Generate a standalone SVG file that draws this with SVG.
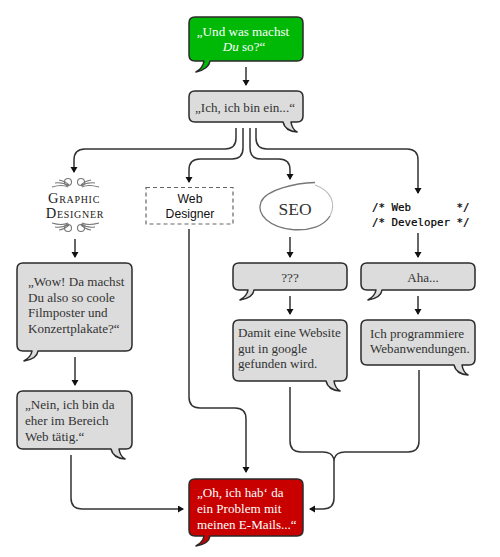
<svg xmlns="http://www.w3.org/2000/svg" width="500" height="557" viewBox="0 0 500 557">
<style>
.b{stroke:#2a2a2a;stroke-width:1.5;stroke-linejoin:round}
.g{fill:#dcdcdc}
.t{font-family:"Liberation Serif",serif;font-size:13.1px;fill:#333}
.w{font-family:"Liberation Serif",serif;font-size:13.1px;fill:#fff}
.m{text-anchor:middle}
.c{fill:none;stroke:#333;stroke-width:1.5}
.o{fill:none;stroke:#777;stroke-width:1.100}
.d{font-family:"Liberation Serif",serif;font-size:14.500px;letter-spacing:.7px;fill:#222;font-variant:small-caps;text-anchor:middle}
.code{font-family:"DejaVu Sans Mono",monospace;font-size:10.8px;fill:#000;stroke:#000;stroke-width:.2;white-space:pre}
</style>
<defs>
<marker id="a" markerUnits="userSpaceOnUse" markerWidth="8" markerHeight="8" refX="5" refY="3.5" orient="auto"><path d="M0 0L6 3.5L0 7z" fill="#111"/></marker>
</defs>
<g id="connectors">
<path class="c" marker-end="url(#a)" d="M246 67V85"/>
<path class="c" marker-end="url(#a)" d="M236 128V138Q236 149 225 149H85Q74 149 74 160V172"/>
<path class="c" marker-end="url(#a)" d="M243 128V148Q243 159 232 159H200Q189 159 189 170V182"/>
<path class="c" marker-end="url(#a)" d="M250 128V148Q250 159 261 159H279Q290 159 290 170V179"/>
<path class="c" marker-end="url(#a)" d="M256 128V138Q256 149 267 149H407Q418 149 418 160V193"/>
<path class="c" marker-end="url(#a)" d="M75 239V257"/>
<path class="c" marker-end="url(#a)" d="M290 237V257"/>
<path class="c" marker-end="url(#a)" d="M418 233V257"/>
<path class="c" marker-end="url(#a)" d="M75 357V385"/>
<path class="c" marker-end="url(#a)" d="M290 296V314"/>
<path class="c" marker-end="url(#a)" d="M418 296V314"/>
<path class="c" marker-end="url(#a)" d="M71 455V498Q71 509 82 509H183"/>
<path class="c" marker-end="url(#a)" d="M189 229V397Q189 408 200 408H235Q246 408 246 419V472"/>
<path class="c" d="M290 387V441Q290 452 301 452H323Q332 452 334 459Q336 452 345 452H408Q419 452 419 441V370"/>
<path class="c" marker-end="url(#a)" d="M334 459V498Q334 509 323 509H310"/>
</g>
<g id="n-start"><path class="b" fill="#00b806" d="M195 17H297Q303 17 303 23V55Q303 61 297 61H210Q209 69 196 72Q203 68 204 61H195Q189 61 189 55V23Q189 17 195 17Z"/>
<text class="w m" x="243" y="36">„Und was machst</text><text class="w m" x="244" y="51"><tspan font-style="italic">Du</tspan> so?“</text></g>
<g id="n-ich"><path class="b g" d="M195 91H297Q303 91 303 97V116Q303 122 297 122H291Q292 129 297 132Q285 131 283 122H195Q189 122 189 116V97Q189 91 195 91Z"/>
<text class="t m" x="245" y="112">„Ich, ich bin ein...“</text></g>
<g id="n-graphic">
<path class="o" d="M52 187Q62 184 68 187M55 183Q63 182 69 186M59 180Q65 181 69 185M99 187Q88 184 82 187M95 183Q87 182 81 186M91 180Q85 181 81 185"/>
<circle class="o" cx="68" cy="182" r="3.5"/><circle class="o" cx="81" cy="182" r="3.5"/>
<text class="d" x="74" y="203">Graphic</text>
<text class="d" x="75" y="218">Designer</text>
<path class="o" d="M52 223Q62 226 68 223M55 227Q63 228 69 224M59 230Q65 229 69 225M99 223Q88 226 82 223M95 227Q87 228 81 224M91 230Q85 229 81 225"/>
<circle class="o" cx="68" cy="228" r="3.5"/><circle class="o" cx="81" cy="228" r="3.5"/>
</g>
<g id="n-web"><rect x="146" y="187.500" width="87" height="36.500" fill="#fff" stroke="#666" stroke-width="1.200" stroke-dasharray="4 3"/>
<text x="190" y="203" text-anchor="middle" font-family="Liberation Sans,sans-serif" font-size="12.200" fill="#111">Web</text>
<text x="190" y="218" text-anchor="middle" font-family="Liberation Sans,sans-serif" font-size="12.200" fill="#111">Designer</text></g>
<g id="n-seo"><path d="M315 182.500C295 183 266 190 261 202C256 215 270 227 292 229.500C310 231 324 226 330 216" fill="none" stroke="#777" stroke-width="1.300"/>
<path d="M330 216C336 204 332 191 315 185" fill="none" stroke="#bbb" stroke-width="1.100"/>
<text x="295" y="215" text-anchor="middle" font-family="Liberation Serif,serif" font-size="17.500" fill="#333">SEO</text></g>
<g id="n-dev"><text class="code" x="372" y="211" xml:space="preserve">/* Web       */</text><text class="code" x="372" y="226" xml:space="preserve">/* Developer */</text></g>
<g id="n-wow"><path class="b g" d="M23 263H126Q132 263 132 269V345Q132 351 126 351H38Q37 359 24 361Q31 357 32 351H23Q17 351 17 345V269Q17 263 23 263Z"/>
<text class="t" x="28" y="286">„Wow! Da machst</text><text class="t" x="28" y="302">Du also so coole</text><text class="t" x="28" y="317">Filmposter und</text><text class="t" x="28" y="333">Konzertplakate?“</text></g>
<g id="n-nein"><path class="b g" d="M23 391H126Q132 391 132 397V443Q132 449 126 449H119Q120 456 125 459Q113 458 111 449H23Q17 449 17 443V397Q17 391 23 391Z"/>
<text class="t" x="25" y="409">„Nein, ich bin da</text><text class="t" x="25" y="425">eher im Bereich</text><text class="t" x="25" y="441">Web tätig.“</text></g>
<g id="n-q"><path class="b g" d="M239 263H341Q347 263 347 269V284Q347 290 341 290H254Q253 298 240 300Q247 296 248 290H239Q233 290 233 284V269Q233 263 239 263Z"/>
<text class="t m" x="290" y="282">???</text></g>
<g id="n-aha"><path class="b g" d="M367 263H469Q475 263 475 269V284Q475 290 469 290H382Q381 298 368 300Q375 296 376 290H367Q361 290 361 284V269Q361 263 367 263Z"/>
<text class="t m" x="423" y="282">Aha...</text></g>
<g id="n-damit"><path class="b g" d="M239 320H341Q347 320 347 326V375Q347 381 341 381H334Q335 388 340 391Q328 390 326 381H239Q233 381 233 375V326Q233 320 239 320Z"/>
<text class="t" x="238" y="337">Damit eine Website</text><text class="t" x="238" y="353">gut in google</text><text class="t" x="238" y="368">gefunden wird.</text></g>
<g id="n-prog"><path class="b g" d="M367 320H469Q475 320 475 326V359Q475 365 469 365H462Q463 372 468 375Q456 374 454 365H367Q361 365 361 359V326Q361 320 367 320Z"/>
<text class="t" x="370" y="338">Ich programmiere</text><text class="t" x="370" y="353">Webanwendungen.</text></g>
<g id="n-end"><path class="b" fill="#c80000" d="M195 479H297Q303 479 303 485V530Q303 536 297 536H210Q209 544 196 546Q203 542 204 536H195Q189 536 189 530V485Q189 479 195 479Z"/>
<text class="w" x="197" y="497">„Oh, ich hab‘ da</text><text class="w" x="197" y="513">ein Problem mit</text><text class="w" x="197" y="529">meinen E-Mails...“</text></g>
</svg>
